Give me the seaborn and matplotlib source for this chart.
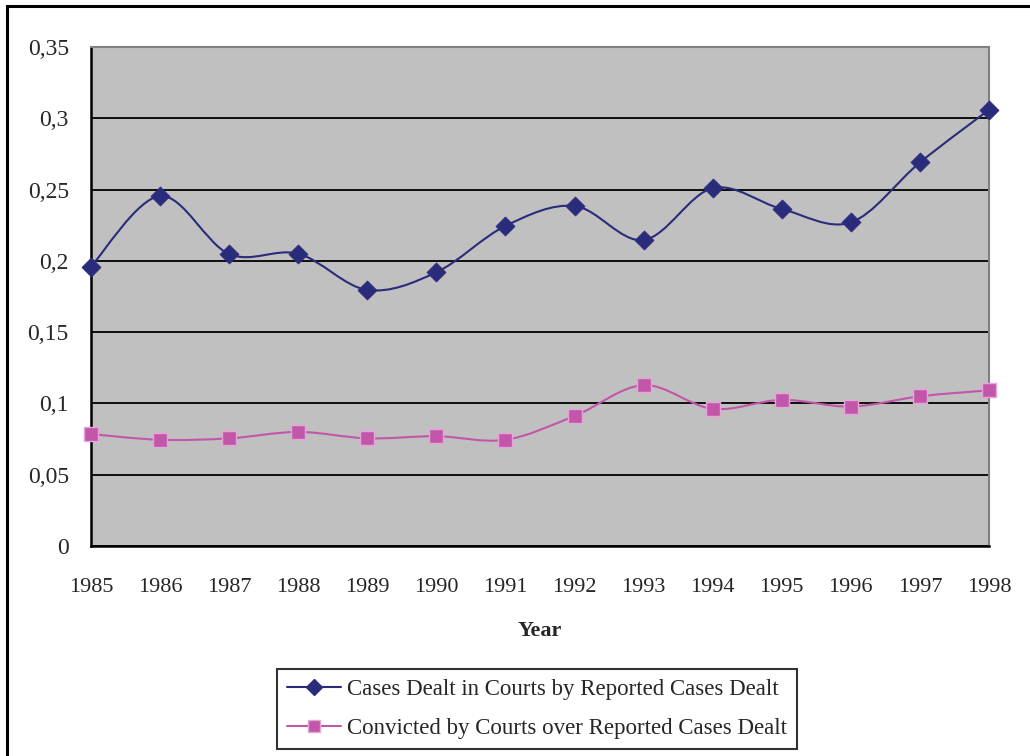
import numpy as np
import pandas as pd
import matplotlib
matplotlib.use("Agg")
import matplotlib.pyplot as plt
from matplotlib.path import Path
from matplotlib.patches import PathPatch, Rectangle
from matplotlib.lines import Line2D
import seaborn as sns

years = [1985, 1986, 1987, 1988, 1989, 1990, 1991, 1992, 1993, 1994, 1995, 1996, 1997, 1998]
cases_dealt = [0.196, 0.2455, 0.2048, 0.205, 0.1796, 0.192, 0.2245, 0.2385, 0.2146,
               0.251, 0.2364, 0.227, 0.269, 0.306]
convicted = [0.0785, 0.0745, 0.0755, 0.080, 0.0755, 0.077, 0.0745, 0.0912, 0.1128,
             0.0962, 0.1025, 0.0978, 0.105, 0.1092]
series_names = ["Cases Dealt in Courts by Reported Cases Dealt",
                "Convicted by Courts over Reported Cases Dealt"]
y_ticks = [0, 0.05, 0.1, 0.15, 0.2, 0.25, 0.3, 0.35]
y_labels = ["0", "0,05", "0,1", "0,15", "0,2", "0,25", "0,3", "0,35"]

navy = "#2b2b7c"
pink = "#c257aa"
FS = 16

sns.set_style("white")
plt.rcParams['font.family'] = ['Liberation Serif', 'DejaVu Serif']

fig = plt.figure(figsize=(10.30, 7.56), dpi=100)
ax = fig.add_axes([91/1030, (756-546)/756, (989-91)/1030, (546-47)/756])
ax.set_facecolor("#c0c0c0")

df = pd.DataFrame({"Year": years * 2,
                   "value": cases_dealt + convicted,
                   "series": [series_names[0]] * len(years) + [series_names[1]] * len(years)})


def smooth_path(xs, ys):
    xs = np.asarray(xs, float)
    ys = np.asarray(ys, float)
    n = len(xs)
    verts = [(xs[0], ys[0])]
    codes = [Path.MOVETO]
    for i in range(n - 1):
        i0 = max(i - 1, 0)
        i3 = min(i + 2, n - 1)
        c1 = (xs[i] + (xs[i + 1] - xs[i0]) / 6, ys[i] + (ys[i + 1] - ys[i0]) / 6)
        c2 = (xs[i + 1] - (xs[i3] - xs[i]) / 6, ys[i + 1] - (ys[i3] - ys[i]) / 6)
        verts += [c1, c2, (xs[i + 1], ys[i + 1])]
        codes += [Path.CURVE4] * 3
    return Path(verts, codes)


for vals, col in [(cases_dealt, navy), (convicted, pink)]:
    ax.add_patch(PathPatch(smooth_path(years, vals), facecolor="none", edgecolor=col,
                           lw=1.5, zorder=3, clip_on=False))

sub1 = df[df.series == series_names[0]]
sub2 = df[df.series == series_names[1]]
sns.scatterplot(data=sub1, x="Year", y="value", marker="D", s=95, color=navy,
                edgecolor=navy, linewidth=0.5, ax=ax, zorder=4, clip_on=False, legend=False)
sns.scatterplot(data=sub2, x="Year", y="value", marker="s", s=100, color=pink,
                edgecolor="#e7a4d8", linewidth=1.0, ax=ax, zorder=4, clip_on=False, legend=False)

ax.set_xlim(1985, 1998)
ax.set_ylim(0, 0.35)
ax.set_xticks(years)
ax.set_xticklabels([str(y) for y in years], fontsize=FS)
ax.set_yticks(y_ticks)
ax.set_yticklabels(y_labels, fontsize=17)
ax.tick_params(axis="both", direction="out", length=8, width=1.5, color="black", pad=8)
ax.tick_params(axis="x", pad=15)
ax.grid(axis="y", color="black", lw=1.3)
ax.set_axisbelow(True)
ax.set_xlabel("Year", fontsize=FS, fontweight="bold", labelpad=17)
ax.set_ylabel("")

for s in ["left", "bottom"]:
    ax.spines[s].set_color("black")
    ax.spines[s].set_linewidth(1.8)
for s in ["top", "right"]:
    ax.spines[s].set_color("#808080")
    ax.spines[s].set_linewidth(1.5)
    ax.spines[s].set_visible(True)

fig.patches.append(Rectangle((7/1030, -0.05), 1.1, (756-6)/756 + 0.05, transform=fig.transFigure,
                             fill=False, edgecolor="black", lw=2.2, zorder=0))

handles = [Line2D([], [], color=navy, lw=1.5, marker="D", markersize=8, markerfacecolor=navy,
                  markeredgecolor=navy),
           Line2D([], [], color=pink, lw=1.5, marker="s", markersize=8, markerfacecolor=pink,
                  markeredgecolor="#e7a4d8")]
leg = fig.legend(handles, series_names, loc="upper left",
                 bbox_to_anchor=(277/1030, (756-669)/756), fontsize=16.5, frameon=True,
                 fancybox=False, edgecolor="black", handlelength=2.35, handletextpad=0.25,
                 borderpad=0.45, labelspacing=0.75, borderaxespad=0)
leg.get_frame().set_linewidth(1.5)

fig.savefig("out.png", dpi=100)
